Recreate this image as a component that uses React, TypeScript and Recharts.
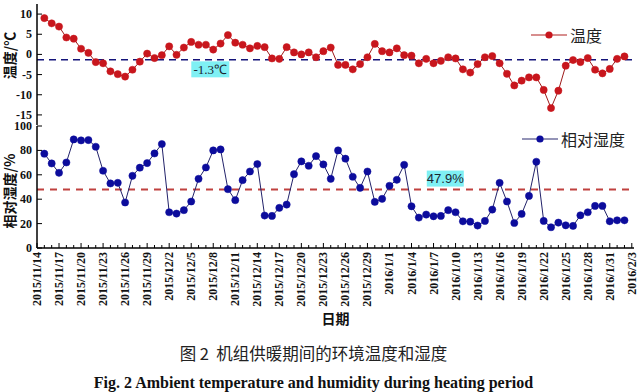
import { LineChart, Line, XAxis, YAxis, ReferenceLine, ReferenceDot } from "recharts"

// tick labels on the date axis, one every 3 days
const tickDates = [
  "2015/11/14", "2015/11/17", "2015/11/20", "2015/11/23", "2015/11/26", "2015/11/29",
  "2015/12/2", "2015/12/5", "2015/12/8", "2015/12/11", "2015/12/14", "2015/12/17",
  "2015/12/20", "2015/12/23", "2015/12/26", "2015/12/29", "2016/1/1", "2016/1/4",
  "2016/1/7", "2016/1/10", "2016/1/13", "2016/1/16", "2016/1/19", "2016/1/22",
  "2016/1/25", "2016/1/28", "2016/1/31", "2016/2/3",
]

// daily mean temperature, °C (2015/11/15 .. 2016/2/2)
const temperature = [
  9.0, 7.7, 6.9, 4.2, 3.9, 1.4, 0.4, -1.9, -2.2, -4.2,
  -4.9, -5.5, -3.8, -1.8, 0.2, -0.9, -0.2, 2.0, -0.1, 1.7,
  3.1, 2.4, 2.4, 1.2, 2.7, 4.8, 2.9, 2.4, 1.5, 2.1,
  1.8, -1.0, -1.1, 1.8, 0.5, 0.0, 0.5, -0.7, 0.8, 1.7,
  -2.6, -2.6, -3.7, -2.4, -0.7, 2.6, 0.8, 0.5, 1.5, -0.2,
  -0.3, -2.2, -1.1, -2.2, -1.6, -0.7, -1.0, -3.7, -4.5, -2.4,
  -0.7, -0.4, -2.2, -4.8, -7.7, -6.5, -5.7, -5.7, -8.8, -13.3,
  -9.0, -2.8, -1.4, -1.9, -0.9, -3.8, -4.7, -3.6, -1.1, -0.5,
]

// daily relative humidity, %
const humidity = [
  77.3, 69.3, 61.6, 70.1, 89.0, 88.2, 88.5, 83.0, 63.3, 52.9,
  53.4, 37.3, 59.2, 65.8, 69.6, 77.5, 85.2, 29.3, 28.2, 31.0,
  38.1, 56.7, 66.0, 80.0, 80.8, 48.2, 39.2, 55.6, 62.7, 68.8,
  26.6, 26.3, 32.9, 35.6, 60.5, 71.0, 67.4, 75.3, 68.5, 56.7,
  80.0, 73.2, 58.4, 49.3, 62.7, 37.8, 40.3, 51.0, 55.9, 68.2,
  34.2, 24.9, 27.4, 26.0, 26.3, 31.0, 29.3, 21.9, 21.6, 18.4,
  22.2, 31.5, 53.4, 38.1, 20.5, 27.9, 42.7, 70.7, 22.2, 17.0,
  20.8, 18.6, 18.1, 26.8, 29.3, 34.5, 34.5, 21.9, 22.7, 22.7,
]

const tempTicks = [-15, -10, -5, 0, 5, 10]
const humTicks = [0, 20, 40, 60, 80, 100]
const tempMean = -1.3
const humMean = 47.9

const data = temperature.map((t, i) => ({ day: i + 1, temp: t, hum: humidity[i] }))
const dayTicks = Array.from({ length: tickDates.length * 3 - 2 }, (_, i) => i)
const dayDomain = [0, 81.3]

const SERIF = "'Liberation Serif', 'Times New Roman', serif"
const CJK = "'Noto Sans CJK SC', sans-serif"

function DayTick({ x, y, payload, dir, labels }: any) {
  const d = payload.value
  const major = d % 3 === 0
  return (
    <g>
      <line x1={x} x2={x} y1={y} y2={y + dir * (major ? 5 : 3)} stroke="#000" strokeWidth={1} />
      {labels && major ? (
        <text
          transform={`translate(${x},${y + 4}) rotate(-90)`}
          textAnchor="end"
          dominantBaseline="central"
          fontFamily={SERIF}
          fontWeight="bold"
          fontSize={12}
          fill="#111"
        >
          {tickDates[d / 3]}
        </text>
      ) : null}
    </g>
  )
}

function ValueTick({ x, y, payload, dir, labels }: any) {
  return (
    <g>
      <line x1={x} x2={x + dir * 5} y1={y} y2={y} stroke="#000" strokeWidth={1} />
      {labels ? (
        <text x={x - 5} y={y} textAnchor="end" dominantBaseline="central" fontFamily={SERIF} fontWeight="bold" fontSize={12} fill="#111">
          {payload.value}
        </text>
      ) : null}
    </g>
  )
}

function YTitle({ viewBox, text, shift }: any) {
  const cx = viewBox.x + 9
  const cy = viewBox.y + viewBox.height / 2 + shift
  return (
    <text transform={`translate(${cx},${cy}) rotate(-90)`} textAnchor="middle" dominantBaseline="central" fontFamily={CJK} fontWeight="bold" fontSize={14} fill="#111">
      {text}
    </text>
  )
}

function MeanTag({ cx, cy, text, w, font }: any) {
  return (
    <g>
      <rect x={cx - w / 2} y={cy - 8} width={w} height={16} fill="#7ff0f4" />
      <text x={cx} y={cy} textAnchor="middle" dominantBaseline="central" fontFamily={font} fontSize={13} fill="#1b2530">
        {text}
      </text>
    </g>
  )
}

function LegendKey({ left, top, line, dot, label }: any) {
  return (
    <svg style={{ position: "absolute", left, top }} width={110} height={24}>
      <line x1={0} x2={36} y1={12} y2={12} stroke={line} strokeWidth={1.2} />
      <circle cx={18} cy={12} r={3.6} fill={dot} />
      <text x={39} y={12} dominantBaseline="central" fontFamily={CJK} fontSize={16} fill="#222">
        {label}
      </text>
    </svg>
  )
}

const axisLine = { stroke: "#000", strokeWidth: 1.5 }

export default function App() {
  return (
    <div style={{ position: "absolute", left: 0, top: 0, width: 640, height: 392, background: "#fff", overflow: "hidden" }}>
      <div style={{ position: "absolute", left: 0, top: 0 }}>
        <LineChart width={640} height={126} data={data} margin={{ top: 4, right: 6, bottom: 1, left: 0 }}>
          <XAxis dataKey="day" type="number" domain={dayDomain} allowDataOverflow ticks={dayTicks} interval={0} height={0}
            tickSize={0} tickMargin={0} axisLine={axisLine} tick={(p: any) => <DayTick {...p} dir={-1} labels={false} />} />
          <XAxis xAxisId="top" orientation="top" dataKey="day" type="number" domain={dayDomain} allowDataOverflow ticks={dayTicks}
            interval={0} height={0} tickSize={0} tickMargin={0} axisLine={axisLine} tick={(p: any) => <DayTick {...p} dir={1} labels={false} />} />
          <YAxis type="number" domain={[-17.5, 12.5]} allowDataOverflow ticks={tempTicks} interval={0} width={37} tickSize={0} tickMargin={0}
            axisLine={axisLine} tick={(p: any) => <ValueTick {...p} dir={1} labels />}
            label={(p: any) => <YTitle {...p} text="温度/℃" shift={-9} />} />
          <YAxis yAxisId="right" orientation="right" type="number" domain={[-17.5, 12.5]} allowDataOverflow ticks={tempTicks} interval={0}
            width={0} tickSize={0} tickMargin={0} axisLine={axisLine} tick={(p: any) => <ValueTick {...p} dir={-1} labels={false} />} />
          <ReferenceLine y={tempMean} stroke="#14147a" strokeWidth={1.5} strokeDasharray="7 5" />
          <ReferenceDot x={23.6} y={-3.7} r={0} shape={(p: any) => <MeanTag cx={p.cx} cy={p.cy} text="-1.3℃" w={38} font={SERIF} />} />
          <Line type="linear" dataKey="temp" stroke="#9e1a1a" strokeWidth={1}
            dot={{ r: 3.6, fill: "#c8161d", stroke: "#c8161d", strokeWidth: 0.5 }} isAnimationActive={false} />
        </LineChart>
      </div>

      <div style={{ position: "absolute", left: 0, top: 113 }}>
        <LineChart width={640} height={223} data={data} margin={{ top: 13, right: 6, bottom: 14, left: 0 }}>
          <XAxis dataKey="day" type="number" domain={dayDomain} allowDataOverflow ticks={dayTicks} interval={0} height={74}
            tickSize={0} tickMargin={0} axisLine={axisLine} tick={(p: any) => <DayTick {...p} dir={-1} labels />}
            label={(p: any) => (
              <text x={p.viewBox.x + p.viewBox.width / 2} y={p.viewBox.y + 70} textAnchor="middle" dominantBaseline="central"
                fontFamily={CJK} fontWeight="bold" fontSize={14} fill="#111">
                日期
              </text>
            )} />
          <XAxis xAxisId="top" orientation="top" dataKey="day" type="number" domain={dayDomain} allowDataOverflow ticks={dayTicks}
            interval={0} height={0} tickSize={0} tickMargin={0} axisLine={axisLine} tick={(p: any) => <DayTick {...p} dir={1} labels={false} />} />
          <YAxis type="number" domain={[0, 100]} allowDataOverflow ticks={humTicks} interval={0} width={37} tickSize={0} tickMargin={0}
            axisLine={axisLine} tick={(p: any) => <ValueTick {...p} dir={1} labels />}
            label={(p: any) => <YTitle {...p} text="相对湿度/%" shift={4} />} />
          <YAxis yAxisId="right" orientation="right" type="number" domain={[0, 100]} allowDataOverflow ticks={humTicks} interval={0}
            width={0} tickSize={0} tickMargin={0} axisLine={axisLine} tick={(p: any) => <ValueTick {...p} dir={-1} labels={false} />} />
          <ReferenceLine y={humMean} stroke="#c0413f" strokeWidth={2} strokeDasharray="7 6" />
          <ReferenceDot x={55.6} y={56.9} r={0} shape={(p: any) => <MeanTag cx={p.cx} cy={p.cy} text="47.9%" w={37} font="'Liberation Sans', Arial, sans-serif" />} />
          <Line type="linear" dataKey="hum" stroke="#22226a" strokeWidth={1}
            dot={{ r: 3.6, fill: "#0c0c9c", stroke: "#0c0c9c", strokeWidth: 0.5 }} isAnimationActive={false} />
        </LineChart>
      </div>

      <LegendKey left={531} top={23} line="#b01e1e" dot="#c8161d" label="温度" />
      <LegendKey left={522} top={127} line="#2a2a70" dot="#0c0c9c" label="相对湿度" />

      <div style={{ position: "absolute", left: 0, top: 342, width: 627, textAlign: "center", fontFamily: CJK, fontSize: 16.5, lineHeight: "22px", color: "#222" }}>
        图 2&nbsp;&nbsp;机组供暖期间的环境温度和湿度
      </div>
      <div style={{ position: "absolute", left: 0, top: 373, width: 627, textAlign: "center", fontFamily: SERIF, fontWeight: "bold", fontSize: 16, lineHeight: "20px", color: "#111" }}>
        Fig. 2 Ambient temperature and humidity during heating period
      </div>
    </div>
  )
}
